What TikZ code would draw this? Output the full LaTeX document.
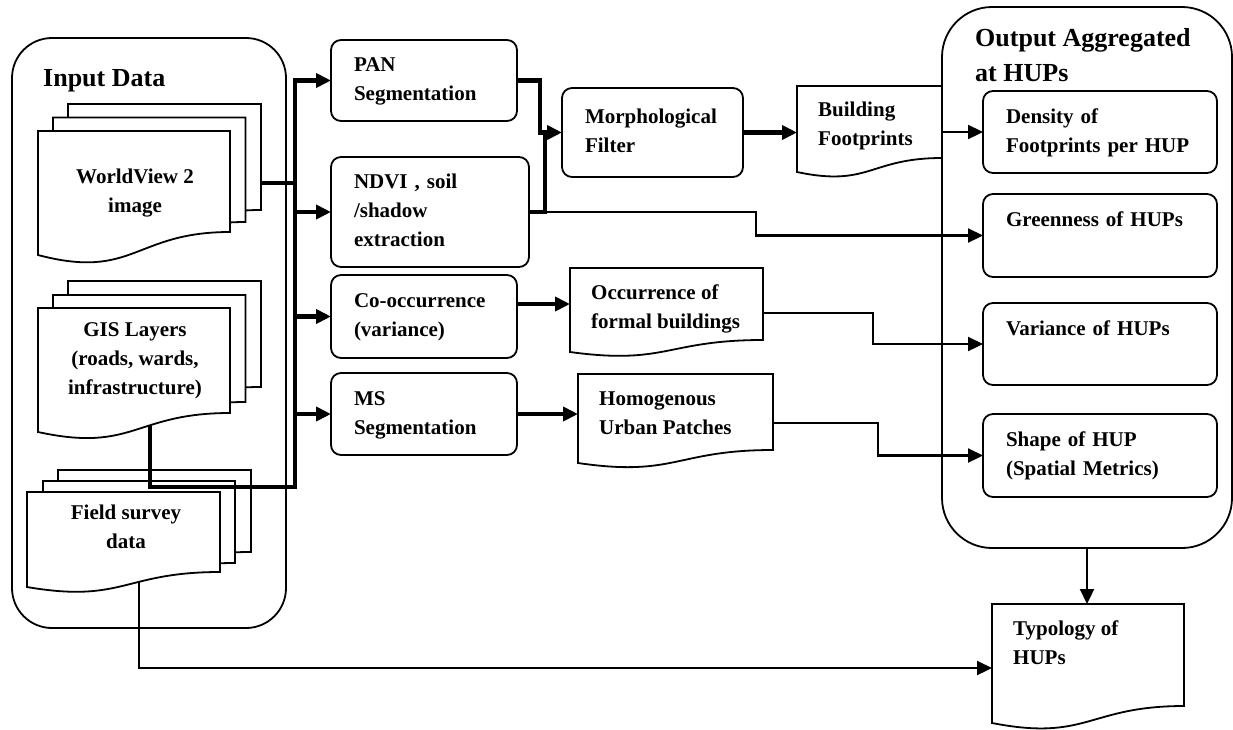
\documentclass[tikz,border=0pt]{standalone}
\usepackage{fontspec}
\setmainfont{Liberation Serif}
\usetikzlibrary{arrows.meta,calc}
\newcommand\boxstart{\hyphenpenalty=10000 \exhyphenpenalty=10000 \strut}
\tikzset{
 txtfont/.style={font=\bfseries\fontsize{21}{29}\selectfont},
 rbox/.style={draw, line width=1.8pt, rounded corners=10pt, txtfont, align=left, inner xsep=23pt, inner ysep=0pt, outer sep=0pt, execute at begin node=\boxstart, execute at end node=\strut},
 bigbox/.style={draw, line width=1.8pt, inner sep=0pt, outer sep=0pt},
 docnodestyle/.style={inner sep=0pt, outer sep=0pt},
 docline/.style={draw, fill=white, line width=1.8pt, line join=miter},
 doctext/.style={txtfont, inner sep=0pt, execute at begin node=\strut, execute at end node=\strut},
 headtext/.style={font=\bfseries\fontsize{26}{35}\selectfont, align=left, inner sep=0pt, execute at begin node=\strut},
 thickc/.style={line width=4.5pt},
 thinc/.style={line width=2.2pt},
 arr/.style={-{Triangle[length=15pt,width=14pt]}},
}
\newcommand\docnode[5]{\node[docnodestyle, minimum width={(#4)-(#2)}, minimum height={(#5)-(#3)}, anchor=north west] (#1) at (#2,#3) {};}
\newcommand\docdraw[2]{\draw[docline] (#1.south east) .. controls (#1.south) and ($(#1.south)+(0,2.1*#2)$) .. ($(#1.south west)+(0,#2)$) -- (#1.north west) -- (#1.north east) -- cycle;}
\begin{document}
\begin{tikzpicture}[x=1pt,y=-1pt]
\fill[white] (0,0) rectangle (1233,729);
\useasboundingbox (0,0) rectangle (1233,729);

% big containers
\node[bigbox, rounded corners=40pt, minimum width=274pt, minimum height=590pt, anchor=north west] (inbox) at (12,38) {};
\node[bigbox, rounded corners=50pt, minimum width=290pt, minimum height=541pt, anchor=north west] (outbox) at (942,7) {};
\node[headtext, anchor=north west] (intitle) at (43,61.5) {Input Data};
\node[headtext, anchor=north west] (outtitle) at (975,28.5) {Output Aggregated\\at HUPs};

% document nodes (geometry only)
\docnode{wv3}{68}{104}{261}{210}
\docnode{wv2}{53}{117.5}{245.5}{222}
\docnode{wv}{38}{131}{230}{232}
\docnode{gis3}{68}{281}{261}{387}
\docnode{gis2}{53}{295}{245.5}{402}
\docnode{gis}{38}{308}{230}{413}
\docnode{fld3}{58}{470}{251}{552}
\docnode{fld2}{43}{481}{235}{563}
\docnode{fld}{27}{492}{220}{572}
\docnode{bf}{797}{86}{942}{158}
\docnode{occ}{570}{268}{763}{340}
\docnode{hom}{578}{374}{773}{450}
\docnode{typ}{992}{604}{1184}{706}

% process boxes
\node[rbox, text width=140pt, minimum height=81pt] (pan) at (424,80.5) {PAN\\Segmentation};
\node[rbox, text width=152pt, minimum height=110pt] (ndvi) at (430,212) {NDVI , soil\\/shadow\\extraction};
\node[rbox, text width=140pt, minimum height=83pt] (cooc) at (424,316.5) {Co-occurrence\\(variance)};
\node[rbox, text width=140pt, minimum height=82pt] (ms) at (424,414) {MS\\Segmentation};
\node[rbox, text width=135pt, minimum height=89pt] (morph) at (652.5,132.5) {Morphological\\Filter};
\node[rbox, text width=188pt, minimum height=82pt] (dens) at (1100,132) {Density of\\Footprints per HUP};
\node[rbox, text width=188pt, minimum height=83pt] (green) at (1100,235.5) {Greenness of HUPs\\};
\node[rbox, text width=188pt, minimum height=82pt] (var) at (1100,344) {Variance of HUPs\\};
\node[rbox, text width=188pt, minimum height=83pt] (shape) at (1100,455.5) {Shape of HUP\\(Spatial Metrics)};

% field survey -> typology (under the field documents)
\coordinate (fk) at (139,668);
\draw[thinc,arr] (fld.south -| fk) -- (fk) -- (fk -| typ.west);

% field survey documents
\docdraw{fld3}{15}
\docdraw{fld2}{15}
\docdraw{fld}{15}

% GIS -> bus -> PAN (one path)
\coordinate (gisj) at (150,487);
\coordinate (busbot) at (295,487);
\draw[thickc,arr] (gis.south -| gisj) -- (gisj) -- (busbot) -- (pan.west -| busbot) -- (pan.west);

% GIS and WorldView documents
\docdraw{gis3}{19}
\docdraw{gis2}{19}
\docdraw{gis}{19}
\docdraw{wv3}{23}
\docdraw{wv2}{23}
\docdraw{wv}{23}

% output documents
\docdraw{bf}{14}
\docdraw{occ}{12}
\docdraw{hom}{13}
\docdraw{typ}{17}

% document texts
\node[doctext, align=center] (wvt) at (135,195) {WorldView 2\\image};
\node[doctext, align=center] (gist) at (135,362.5) {GIS Layers\\(roads, wards,\\infrastructure)};
\node[doctext, align=center] (fldt) at (126,531.5) {Field survey\\data};
\node[doctext, align=left, anchor=west] (bft) at (818,128.5) {Building\\Footprints};
\node[doctext, align=left, anchor=west] (occt) at (591,310.5) {Occurrence of\\formal buildings};
\node[doctext, align=left, anchor=west] (homt) at (599,417.5) {Homogenous\\Urban Patches};
\node[doctext, align=left, anchor=west] (typt) at (1013,646.5) {Typology of\\HUPs};

% WorldView -> bus
\coordinate (wvj) at (295,183);
\draw[thickc] (wv3.east |- wvj) -- (wvj);

% bus -> process boxes
\draw[thickc,arr] (ndvi.west -| busbot) -- (ndvi.west);
\draw[thickc,arr] (cooc.west -| busbot) -- (cooc.west);
\draw[thickc,arr] (ms.west -| busbot) -- (ms.west);

% PAN + NDVI -> Morphological filter
\coordinate (mj1) at (540,132.5);
\coordinate (mj2) at (545,132.5);
\draw[thickc,arr] (pan.east) -| (mj1) -- (morph.west);
\draw[thickc] (ndvi.east) -| (mj2);

% Morph -> Building footprints
\draw[thickc,arr] (morph.east) -- (morph.east -| bf.west);
% Co-occurrence -> Occurrence
\draw[thickc,arr] (cooc.east |- occ.west) -- (occ.west);
% MS -> Homogenous
\draw[thickc,arr] (ms.east) -- (ms.east -| hom.west);

% thin connectors to outputs
\draw[thinc,arr] (dens.west -| bf.east) -- (dens.west);
\coordinate (gk) at (756,224);
\draw[thinc,arr] (ndvi.east) -| (gk) |- (green.west);
\draw[thinc,arr] ($(occ.east)+(0,9)$) -- ++(110,0) |- (var.west);
\draw[thinc,arr] ($(hom.east)+(0,11)$) -- ++(105,0) |- (shape.west);
\draw[thinc,arr] (outbox.south) -- (outbox.south |- typ.north);
\end{tikzpicture}
\end{document}
